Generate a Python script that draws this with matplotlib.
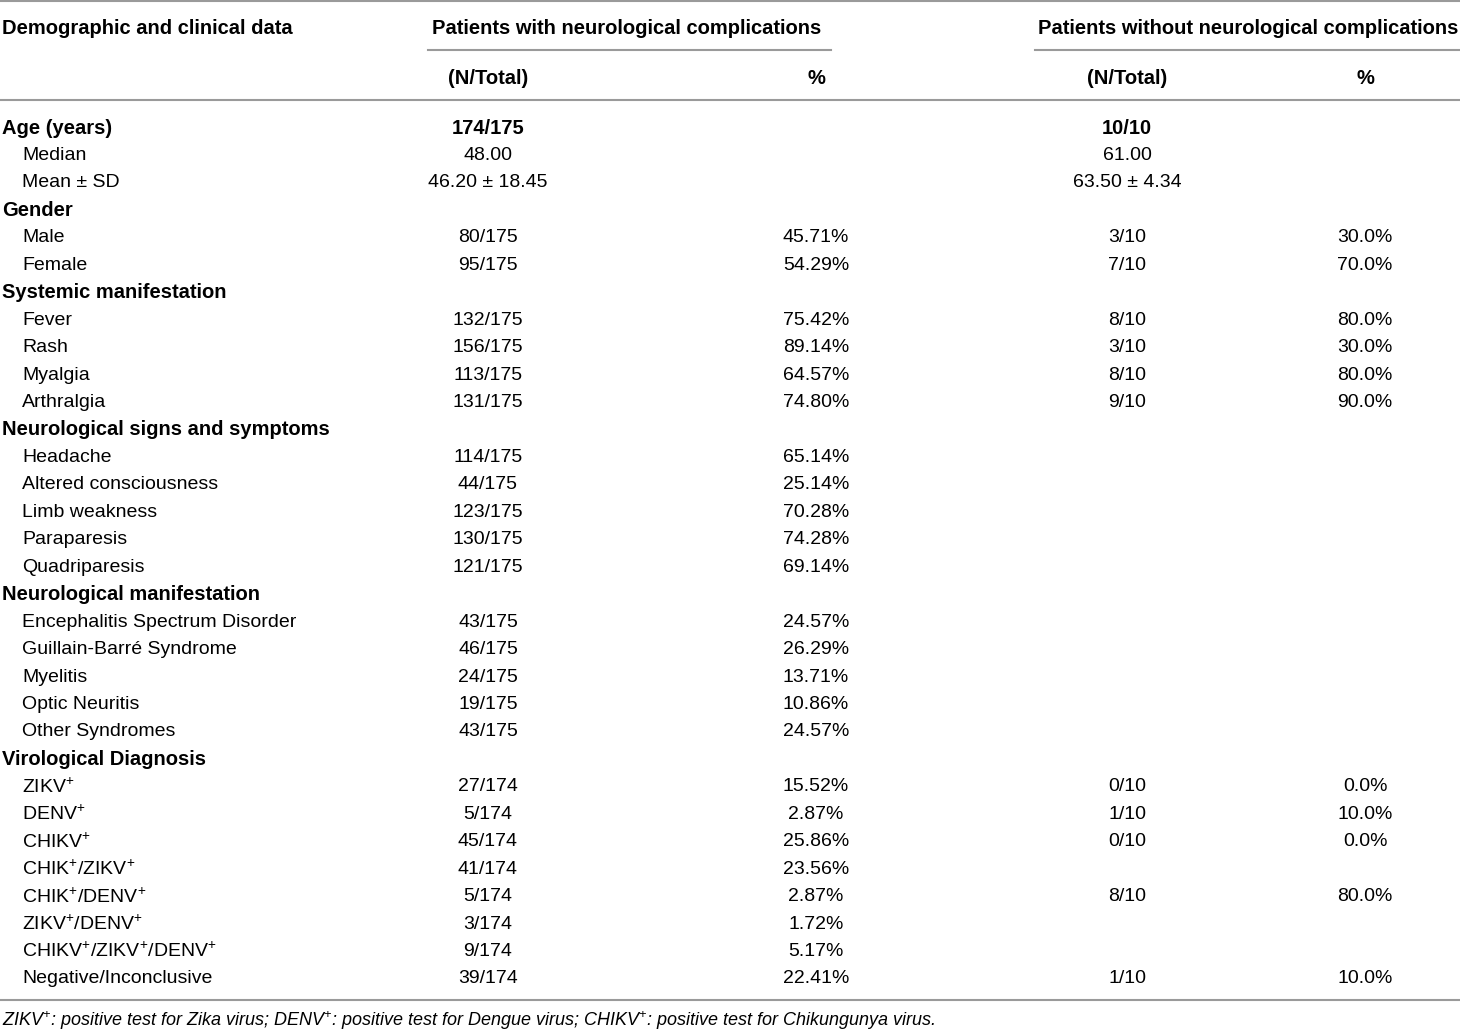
import matplotlib.pyplot as plt

plt.rcParams['font.family'] = ['Liberation Sans', 'DejaVu Sans']
plt.rcParams['mathtext.fontset'] = 'custom'
plt.rcParams['mathtext.rm'] = 'Liberation Sans'
plt.rcParams['mathtext.it'] = 'Liberation Sans:italic'
plt.rcParams['mathtext.default'] = 'regular'

# table content
row_labels = [
    "Age (years)", "Median", "Mean ± SD",
    "Gender", "Male", "Female",
    "Systemic manifestation", "Fever", "Rash", "Myalgia", "Arthralgia",
    "Neurological signs and symptoms", "Headache", "Altered consciousness",
    "Limb weakness", "Paraparesis", "Quadriparesis",
    "Neurological manifestation", "Encephalitis Spectrum Disorder",
    "Guillain-Barré Syndrome", "Myelitis", "Optic Neuritis", "Other Syndromes",
    "Virological Diagnosis", r"ZIKV$^{+}$", r"DENV$^{+}$", r"CHIKV$^{+}$",
    r"CHIK$^{+}$/ZIKV$^{+}$", r"CHIK$^{+}$/DENV$^{+}$", r"ZIKV$^{+}$/DENV$^{+}$",
    r"CHIKV$^{+}$/ZIKV$^{+}$/DENV$^{+}$", "Negative/Inconclusive",
]
is_heading = [
    True, False, False,
    True, False, False,
    True, False, False, False, False,
    True, False, False, False, False, False,
    True, False, False, False, False, False,
    True, False, False, False, False, False, False, False, False,
]
n_with = [
    "174/175", "48.00", "46.20 ± 18.45",
    "", "80/175", "95/175",
    "", "132/175", "156/175", "113/175", "131/175",
    "", "114/175", "44/175", "123/175", "130/175", "121/175",
    "", "43/175", "46/175", "24/175", "19/175", "43/175",
    "", "27/174", "5/174", "45/174", "41/174", "5/174", "3/174", "9/174", "39/174",
]
pct_with = [
    "", "", "",
    "", "45.71%", "54.29%",
    "", "75.42%", "89.14%", "64.57%", "74.80%",
    "", "65.14%", "25.14%", "70.28%", "74.28%", "69.14%",
    "", "24.57%", "26.29%", "13.71%", "10.86%", "24.57%",
    "", "15.52%", "2.87%", "25.86%", "23.56%", "2.87%", "1.72%", "5.17%", "22.41%",
]
n_without = [
    "10/10", "61.00", "63.50 ± 4.34",
    "", "3/10", "7/10",
    "", "8/10", "3/10", "8/10", "9/10",
    "", "", "", "", "", "",
    "", "", "", "", "", "",
    "", "0/10", "1/10", "0/10", "", "8/10", "", "", "1/10",
]
pct_without = [
    "", "", "",
    "", "30.0%", "70.0%",
    "", "80.0%", "30.0%", "80.0%", "90.0%",
    "", "", "", "", "", "",
    "", "", "", "", "", "",
    "", "0.0%", "10.0%", "0.0%", "", "80.0%", "", "", "10.0%",
]
group_titles = ["Patients with neurological complications",
                "Patients without neurological complications"]
sub_titles = ["(N/Total)", "%"]
footnote = (r"$ZIKV^{+}$: positive test for Zika virus; $DENV^{+}$: positive test for "
            r"Dengue virus; $CHIKV^{+}$: positive test for Chikungunya virus.")

fig = plt.figure(figsize=(14.6, 10.31), dpi=100)
ax = fig.add_axes([0, 0, 1, 1])
ax.set_xlim(0, 1460)
ax.set_ylim(1031, 0)
ax.axis('off')

fs = 14
fs_b = 14.5
line_col = '#9a9a9a'
col_x = [488, 816, 1127, 1365]
group_x = [627, 1248]

# header
ax.axhline(1, color=line_col, lw=1.5)
ax.text(2, 28, "Demographic and clinical data", fontsize=fs_b, fontweight='bold',
        ha='left', va='center')
for gx, title in zip(group_x, group_titles):
    ax.text(gx, 28, title, fontsize=fs_b, fontweight='bold', ha='center', va='center')
ax.plot([428, 831], [50, 50], color=line_col, lw=1.5)
ax.plot([1035, 1460], [50, 50], color=line_col, lw=1.5)
for i, cx in enumerate(col_x):
    ax.text(cx, 78, sub_titles[i % 2], fontsize=fs_b, fontweight='bold',
            ha='center', va='center')
ax.axhline(100, color=line_col, lw=1.5)

# body rows
y0, dy = 128, 27.45
for i, lab in enumerate(row_labels):
    y = y0 + i * dy
    if is_heading[i]:
        ax.text(2, y, lab, fontsize=fs_b, fontweight='bold', ha='left', va='center')
    else:
        ax.text(22, y, lab, fontsize=fs, ha='left', va='center')
    w = 'bold' if is_heading[i] else 'normal'
    size = fs_b if is_heading[i] else fs
    for cx, vals in zip(col_x, [n_with, pct_with, n_without, pct_without]):
        if vals[i]:
            ax.text(cx, y, vals[i], fontsize=size, fontweight=w,
                    ha='center', va='center')

ax.axhline(1000, color=line_col, lw=1.5)
ax.text(2, 1021, footnote, fontsize=fs - 1, style='italic', ha='left', va='center')

fig.savefig("out.png", dpi=100)
